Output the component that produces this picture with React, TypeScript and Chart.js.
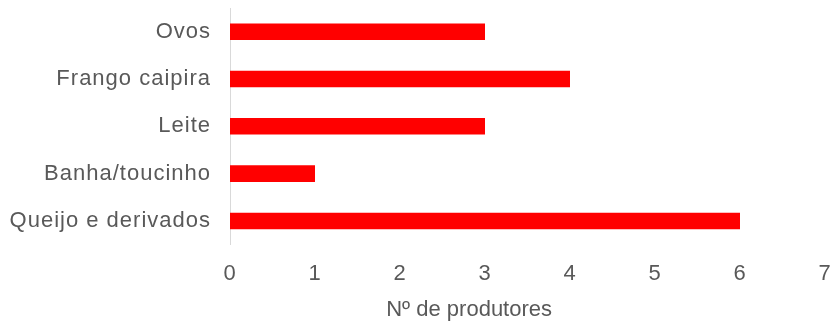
import { useEffect, useRef } from "react";
import { Chart, registerables } from "chart.js";

Chart.register(...registerables);

// Products and how many producers offer each one
const categories = ["Ovos", "Frango caipira", "Leite", "Banha/toucinho", "Queijo e derivados"];
const producers = [3, 4, 3, 1, 6];
const xTicks = [0, 1, 2, 3, 4, 5, 6, 7];
const axisTitle = "Nº de produtores";

const TEXT = "#595959";
const BAR = "#ff0000";
const FONT = "'Liberation Sans', Arial, sans-serif";

// Widens tick text slightly and paints the horizontal axis title
const textStyle = {
  id: "textStyle",
  beforeDraw(chart: Chart) {
    (chart.ctx as any).letterSpacing = "1px";
  },
  afterDraw(chart: Chart) {
    const ctx = chart.ctx as any;
    ctx.save();
    ctx.letterSpacing = "0px";
    ctx.font = `22px ${FONT}`;
    ctx.fillStyle = TEXT;
    ctx.textAlign = "center";
    ctx.textBaseline = "alphabetic";
    ctx.fillText(axisTitle, chart.width * 0.5625, chart.height - 6);
    ctx.restore();
  },
};

export default function App() {
  const canvasRef = useRef<HTMLCanvasElement | null>(null);

  useEffect(() => {
    if (!canvasRef.current) return;
    const chart = new Chart(canvasRef.current, {
      type: "bar",
      data: {
        labels: categories,
        datasets: [
          {
            data: producers,
            backgroundColor: BAR,
            borderWidth: 0,
            barPercentage: 0.35,
            categoryPercentage: 1,
          },
        ],
      },
      options: {
        indexAxis: "y",
        animation: false,
        responsive: true,
        maintainAspectRatio: false,
        layout: { padding: { left: 0, right: 9, top: 8, bottom: 19 } },
        plugins: {
          legend: { display: false },
          tooltip: { enabled: false },
        },
        scales: {
          x: {
            min: xTicks[0],
            max: xTicks[xTicks.length - 1],
            grid: { display: false, drawTicks: false },
            border: { display: false },
            ticks: {
              stepSize: 1,
              color: TEXT,
              font: { family: FONT, size: 22 },
              padding: 16,
            },
            afterFit(scale: any) {
              scale.paddingLeft = 0;
              scale.paddingRight = 0;
            },
          },
          y: {
            grid: { display: false, drawTicks: false },
            border: { display: true, color: "#d9d9d9", width: 1 },
            ticks: {
              color: TEXT,
              font: { family: FONT, size: 22 },
              padding: 19,
            },
            afterFit(scale: any) {
              scale.width = 230;
              scale.paddingTop = 0;
              scale.paddingBottom = 0;
            },
          },
        },
      },
      plugins: [textStyle],
    });
    return () => chart.destroy();
  }, []);

  return (
    <div style={{ position: "fixed", left: 0, top: 0, width: 834, height: 322, background: "#fff" }}>
      <canvas ref={canvasRef} />
    </div>
  );
}
